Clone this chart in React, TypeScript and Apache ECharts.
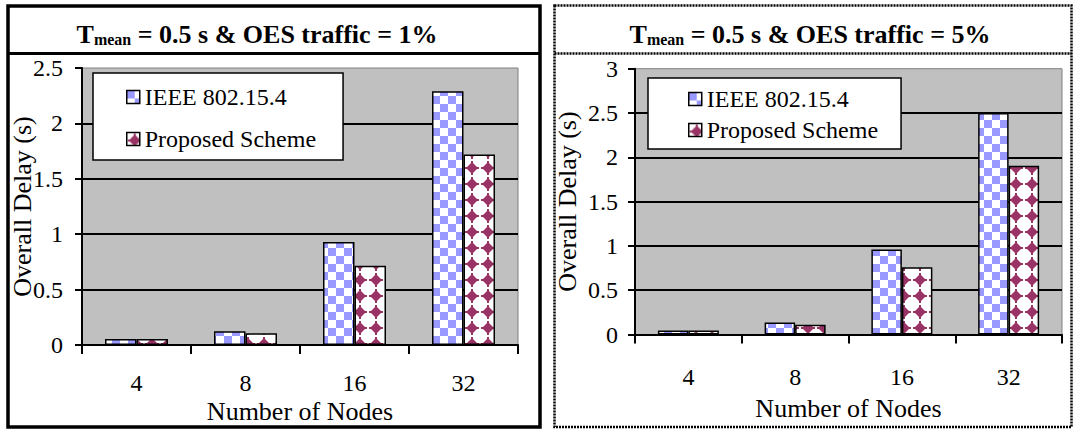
import React, { useEffect, useRef } from 'react';
import * as echarts from 'echarts';

// Node counts on the x axis (shared by both panels)
const nodeCounts = ['4', '8', '16', '32'];
const seriesNames = ['IEEE 802.15.4', 'Proposed Scheme'];

// Overall delay (s), OES traffic = 1 %
const ieeeDelay1 = [0.055, 0.125, 0.93, 2.29];
const proposedDelay1 = [0.055, 0.105, 0.715, 1.72];

// Overall delay (s), OES traffic = 5 %
const ieeeDelay5 = [0.045, 0.135, 0.96, 2.5];
const proposedDelay5 = [0.045, 0.11, 0.76, 1.905];

const panelTraffic = ['1%', '5%'];
const yMax = [2.5, 3];

const FONT = 'Liberation Serif';

function checkerTile(): HTMLCanvasElement {
  const c = document.createElement('canvas');
  c.width = 16;
  c.height = 16;
  const g = c.getContext('2d')!;
  g.fillStyle = '#ffffff';
  g.fillRect(0, 0, 16, 16);
  g.fillStyle = '#9999ff';
  g.fillRect(0, 0, 8, 8);
  g.fillRect(8, 8, 8, 8);
  return c;
}

function diamondTile(): HTMLCanvasElement {
  const c = document.createElement('canvas');
  c.width = 16;
  c.height = 16;
  const g = c.getContext('2d')!;
  g.fillStyle = '#ffffff';
  g.fillRect(0, 0, 16, 16);
  g.fillStyle = '#993366';
  g.beginPath();
  g.moveTo(8, 2);
  g.lineTo(14, 8);
  g.lineTo(8, 14);
  g.lineTo(2, 8);
  g.closePath();
  g.fill();
  g.fillRect(7, 1, 2, 14);
  g.fillRect(1, 7, 14, 2);
  g.fillRect(5, 5, 6, 6);
  return c;
}

export default function App() {
  const ref = useRef<HTMLDivElement>(null);

  useEffect(() => {
    if (!ref.current) return;
    const chart = echarts.init(ref.current, undefined, { renderer: 'svg' });

    const checker = { image: checkerTile(), repeat: 'repeat' };
    const diamond = { image: diamondTile(), repeat: 'repeat' };

    const grids = [
      { left: 82, top: 68, width: 436, height: 277.5 },
      { left: 635, top: 68.7, width: 427, height: 265.8 },
    ];
    const xLabelMargin = [26, 30];
    const xNameGap = [53, 61];
    const yNameGap = [47, 55];
    const yLabelMargin = [19, 17];
    const barWidths = [31.5, 30.5];

    const textBase = { fontFamily: FONT, color: '#000' };

    const xAxes = grids.map((_, i) => ({
      gridIndex: i,
      type: 'category',
      data: nodeCounts,
      boundaryGap: true,
      axisLine: { show: true, lineStyle: { color: '#000', width: 2 } },
      axisTick: { show: true, length: 9, lineStyle: { color: '#000', width: 2 } },
      axisLabel: { margin: xLabelMargin[i], fontSize: 24, ...textBase },
      name: 'Number of Nodes',
      nameLocation: 'middle',
      nameGap: xNameGap[i],
      nameMoveOverlap: false,
      nameTextStyle: { fontSize: 26, ...textBase },
    }));

    const yAxes = grids.map((_, i) => {
      const count = Math.round(yMax[i] / 0.5) + 1;
      const splitColors = Array.from({ length: count }, (_, k) =>
        k === count - 1 ? 'rgba(0,0,0,0)' : '#000'
      );
      return {
        gridIndex: i,
        type: 'value',
        min: 0,
        max: yMax[i],
        interval: 0.5,
        axisLine: { show: true, lineStyle: { color: '#000', width: 2 } },
        axisTick: { show: true, length: 7, lineStyle: { color: '#000', width: 2 } },
        axisLabel: { margin: yLabelMargin[i], fontSize: 24, ...textBase },
        splitLine: { show: true, lineStyle: { color: splitColors, width: 2 } },
        name: 'Overall Delay (s)',
        nameLocation: 'middle',
        nameRotate: 90,
        nameGap: yNameGap[i],
        nameMoveOverlap: false,
        nameTextStyle: { fontSize: 26, ...textBase },
      };
    });

    const panelData = [
      [ieeeDelay1, proposedDelay1],
      [ieeeDelay5, proposedDelay5],
    ];
    const fills = [checker, diamond];

    const series: any[] = [];
    panelData.forEach((pair, i) => {
      pair.forEach((values, s) => {
        series.push({
          type: 'bar',
          name: seriesNames[s],
          xAxisIndex: i,
          yAxisIndex: i,
          data: values,
          barWidth: barWidths[i],
          barGap: '0%',
          itemStyle: { color: fills[s], borderColor: '#000', borderWidth: 1.5 },
          emphasis: { disabled: true },
        });
      });
    });

    const legendBoxes = [
      { left: 93, top: 73, padding: [12, 27, 9, 33], itemGap: 18 },
      { left: 648, top: 78, padding: [9, 23, 7, 40], itemGap: 7 },
    ];

    const legends = legendBoxes.map((b) => ({
      orient: 'vertical',
      left: b.left,
      top: b.top,
      padding: b.padding,
      itemGap: b.itemGap,
      itemWidth: 13,
      itemHeight: 13,
      icon: 'rect',
      backgroundColor: '#fff',
      borderColor: '#000',
      borderWidth: 1.5,
      selectedMode: false,
      itemStyle: { borderColor: '#000', borderWidth: 1.5 },
      textStyle: { fontSize: 24, ...textBase },
      data: seriesNames,
    }));

    const titleCenters = [257, 810];
    const titles = titleCenters.map((cx, i) => ({
      text: `{t|T}{s|mean}{t| = 0.5 s & OES traffic = ${panelTraffic[i]}}`,
      left: cx,
      top: 21,
      textAlign: 'center',
      padding: 0,
      textStyle: {
        rich: {
          t: { fontSize: 26, fontWeight: 'bold', ...textBase },
          s: { fontSize: 16, fontWeight: 'bold', verticalAlign: 'bottom', ...textBase },
        },
      },
    }));

    const dotted = { stroke: '#000', lineWidth: 2.5, lineDash: [2, 1], fill: 'none' };

    chart.setOption({
      animation: false,
      backgroundColor: '#fff',
      textStyle: { fontFamily: FONT },
      title: titles,
      legend: legends,
      grid: grids.map((g) => ({
        ...g,
        show: true,
        backgroundColor: '#c0c0c0',
        borderColor: '#808080',
        borderWidth: 1,
        containLabel: false,
      })),
      xAxis: xAxes,
      yAxis: yAxes,
      series,
      graphic: [
        {
          type: 'rect',
          silent: true,
          shape: { x: 8, y: 6, width: 532, height: 421 },
          style: { fill: 'none', stroke: '#000', lineWidth: 3.5 },
        },
        {
          type: 'line',
          silent: true,
          shape: { x1: 8, y1: 53.5, x2: 540, y2: 53.5 },
          style: { stroke: '#000', lineWidth: 3 },
        },
        {
          type: 'rect',
          silent: true,
          shape: { x: 554.5, y: 5.5, width: 517, height: 421.5 },
          style: dotted,
        },
        {
          type: 'line',
          silent: true,
          shape: { x1: 554.5, y1: 53.5, x2: 1071.5, y2: 53.5 },
          style: dotted,
        },
      ],
    });

    return () => chart.dispose();
  }, []);

  return (
    <div
      ref={ref}
      style={{ position: 'fixed', left: 0, top: 0, width: 1076, height: 429, background: '#fff' }}
    />
  );
}
